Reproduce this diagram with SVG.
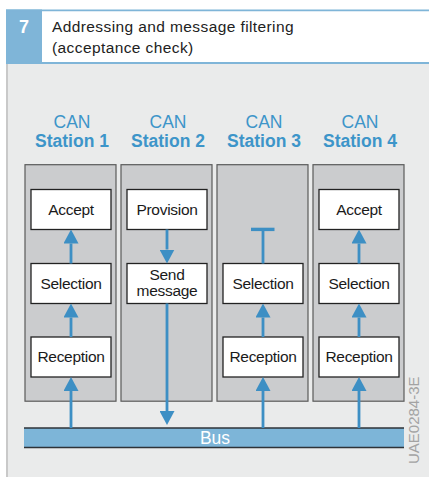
<svg xmlns="http://www.w3.org/2000/svg" width="429" height="477" viewBox="0 0 429 477">
<style>
.col{fill:#cbccce;stroke:#5a5a5a;stroke-width:1.2}
.box{fill:#ffffff;stroke:#222222;stroke-width:1.3}
.lbl{font-family:"Liberation Sans",Arial,sans-serif;font-size:15.5px;letter-spacing:-0.3px;fill:#1a1a1a;text-anchor:middle}
.can{font-family:"Liberation Sans",Arial,sans-serif;font-size:17.5px;fill:#3d95c9;text-anchor:middle}
.st{font-weight:bold}
.arr{stroke:#3d8fc4;stroke-width:2.8;fill:none}
</style>
<defs>
<marker id="ah" viewBox="0 0 14 15" refX="0" refY="7.5" markerWidth="14" markerHeight="15" markerUnits="userSpaceOnUse" orient="auto">
<path d="M0,0 L14,7.5 L0,15 z" fill="#3d8fc4"/>
</marker>
</defs>
<rect x="0" y="0" width="429" height="477" fill="#ffffff"/>
<g id="header">
<rect x="6" y="63" width="423" height="414" fill="#eaebeb"/>
<rect x="6" y="63" width="2" height="414" fill="#c9c9c9"/>
<rect x="6" y="9.5" width="36" height="54" fill="#7fb5d8"/>
<line x1="6" y1="10.3" x2="429" y2="10.3" stroke="#7fb5d8" stroke-width="1.8"/>
<line x1="6" y1="63" x2="429" y2="63" stroke="#7fb5d8" stroke-width="2"/>
<text x="24" y="33" font-family="'Liberation Sans',Arial,sans-serif" font-size="18" font-weight="bold" fill="#ffffff" text-anchor="middle">7</text>
<text font-family="'Liberation Sans',Arial,sans-serif" font-size="15.5" letter-spacing="0.4" fill="#222222"><tspan x="52" y="32">Addressing and message filtering</tspan><tspan x="52" y="53">(acceptance check)</tspan></text>
</g>
<g id="station1">
<rect class="col" x="25" y="164.7" width="91" height="236.5"/>
<text class="can" x="72" y="128.3">CAN</text>
<text class="can st" x="72" y="146.7">Station 1</text>
<rect class="box" x="31" y="189.5" width="80" height="40"/>
<text class="lbl" x="71" y="215">Accept</text>
<rect class="box" x="31" y="263.5" width="80" height="40"/>
<text class="lbl" x="71" y="288.5">Selection</text>
<rect class="box" x="31" y="337" width="80" height="40"/>
<text class="lbl" x="71" y="362">Reception</text>
</g>
<g id="station2">
<rect class="col" x="121" y="164.7" width="91" height="236.5"/>
<text class="can" x="168" y="128.3">CAN</text>
<text class="can st" x="168" y="146.7">Station 2</text>
<rect class="box" x="127" y="189.5" width="80" height="40"/>
<text class="lbl" x="167" y="215">Provision</text>
<rect class="box" x="127" y="263.5" width="80" height="40"/>
<text class="lbl"><tspan x="167" y="279.5">Send</tspan><tspan x="167" y="295.5">message</tspan></text>
</g>
<g id="station3">
<rect class="col" x="217" y="164.7" width="91" height="236.5"/>
<text class="can" x="264" y="128.3">CAN</text>
<text class="can st" x="264" y="146.7">Station 3</text>
<rect class="box" x="223" y="263.5" width="80" height="40"/>
<text class="lbl" x="263" y="288.5">Selection</text>
<rect class="box" x="223" y="337" width="80" height="40"/>
<text class="lbl" x="263" y="362">Reception</text>
</g>
<g id="station4">
<rect class="col" x="313" y="164.7" width="91" height="236.5"/>
<text class="can" x="360" y="128.3">CAN</text>
<text class="can st" x="360" y="146.7">Station 4</text>
<rect class="box" x="319" y="189.5" width="80" height="40"/>
<text class="lbl" x="359" y="215">Accept</text>
<rect class="box" x="319" y="263.5" width="80" height="40"/>
<text class="lbl" x="359" y="288.5">Selection</text>
<rect class="box" x="319" y="337" width="80" height="40"/>
<text class="lbl" x="359" y="362">Reception</text>
</g>
<g id="bus">
<rect x="24" y="428" width="380" height="19.5" fill="#7db5d8"/>
<line x1="24" y1="428" x2="404" y2="428" stroke="#2e3338" stroke-width="1.4"/>
<line x1="24" y1="447.5" x2="404" y2="447.5" stroke="#2e3338" stroke-width="1.4"/>
<text x="215" y="444.3" font-family="'Liberation Sans',Arial,sans-serif" font-size="17.5" fill="#ffffff" text-anchor="middle">Bus</text>
</g>
<g id="connectors">
<line class="arr" x1="71" y1="428" x2="71" y2="391" marker-end="url(#ah)"/>
<line class="arr" x1="71" y1="337" x2="71" y2="317.5" marker-end="url(#ah)"/>
<line class="arr" x1="71" y1="263.5" x2="71" y2="243.5" marker-end="url(#ah)"/>
<line class="arr" x1="167" y1="229.5" x2="167" y2="249.5" marker-end="url(#ah)"/>
<line class="arr" x1="167" y1="303.5" x2="167" y2="411" marker-end="url(#ah)"/>
<line class="arr" x1="263" y1="428" x2="263" y2="391" marker-end="url(#ah)"/>
<line class="arr" x1="263" y1="337" x2="263" y2="317.5" marker-end="url(#ah)"/>
<line class="arr" x1="263" y1="263.5" x2="263" y2="229.5"/>
<line x1="251" y1="229.4" x2="274.5" y2="229.4" stroke="#3d8fc4" stroke-width="3.4"/>
<line class="arr" x1="359" y1="428" x2="359" y2="391" marker-end="url(#ah)"/>
<line class="arr" x1="359" y1="337" x2="359" y2="317.5" marker-end="url(#ah)"/>
<line class="arr" x1="359" y1="263.5" x2="359" y2="243.5" marker-end="url(#ah)"/>
</g>
<text transform="translate(418.5,464) rotate(-90)" font-family="'Liberation Sans',Arial,sans-serif" font-size="15" fill="#a3a3a3">UAE0284-3E</text>
</svg>
